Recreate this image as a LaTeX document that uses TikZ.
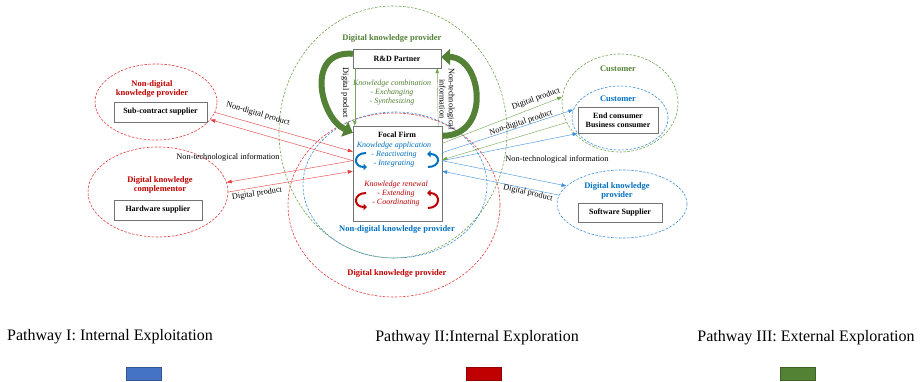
\documentclass[tikz,border=0pt]{standalone}
\usepackage{fontspec}
\setmainfont{Liberation Serif}
\usetikzlibrary{shapes.geometric,arrows.meta,positioning}
\definecolor{kred}{HTML}{C00000}
\definecolor{kblue}{HTML}{0070C0}
\definecolor{kgreen}{HTML}{538135}
\definecolor{lred}{HTML}{E23B3B}
\definecolor{lblue}{HTML}{3F8FD8}
\definecolor{lgreen}{HTML}{72A552}
\definecolor{swblue}{HTML}{4472C4}
\definecolor{swgreen}{HTML}{548235}

\begin{document}
\begin{tikzpicture}
  [
    x=1pt, y=-1pt,
    >={Triangle[length=5pt, width=3.6pt]},
    Box/.style={rectangle, draw=black!55, fill=white, thin, inner sep=1pt, align=center, font=\fontsize{8}{9.3}\selectfont\bfseries},
    Group/.style={ellipse, draw=#1, dash pattern=on 2.5pt off 1.5pt, line width=0.6pt, inner sep=0pt},
    GroupName/.style={text=#1, align=center, inner sep=0pt, font=\fontsize{8.5}{9.3}\selectfont\bfseries},
    Flow/.style={inner sep=0pt, font=\fontsize{8.3}{9.3}\selectfont},
    Mode/.style={text=#1, align=center, inner sep=0pt, font=\fontsize{8}{9}\selectfont\itshape},
    Loop/.style={draw=#1, line width=2pt, -{Triangle[length=3.5pt, width=6.5pt]}},
    Swap/.style={draw=kgreen, line width=6pt, -{Triangle[length=9pt, width=16pt]}},
    Key/.style={inner sep=0pt, font=\fontsize{16}{18}\selectfont},
    Swatch/.style={draw=#1!75!black, fill=#1, minimum width=35pt, minimum height=13pt, inner sep=0pt}
  ]
  \useasboundingbox (0,0) rectangle (921,382);
  % Groups
  \node[Group=lgreen, minimum width=228pt, minimum height=252pt] (dkpOuter) at (393,132) {};
  \node[Group=lred, minimum width=212pt, minimum height=184pt] (dkpLower) at (394,205) {};
  \node[Group=lblue, minimum width=184pt, minimum height=146pt] (ndkpInner) at (395,185) {};
  \node[Group=lred, minimum width=122pt, minimum height=76pt] (ndkpLeft) at (156,102) {};
  \node[Group=lred, minimum width=140pt, minimum height=90pt] (dkcLeft) at (158,192) {};
  \node[Group=lgreen, minimum width=116pt, minimum height=98pt] (custOuter) at (620,103) {};
  \node[Group=lblue, minimum width=96pt, minimum height=64pt] (custInner) at (620,118) {};
  \node[Group=lblue, minimum width=130pt, minimum height=68pt] (dkpRight) at (622,204) {};
  % Group names
  \node[GroupName=kgreen] (dkpOuterName) at (392,38) {Digital knowledge provider};
  \node[GroupName=kblue] (ndkpInnerName) at (397,229) {Non-digital knowledge provider};
  \node[GroupName=kred] (dkpLowerName) at (397,273) {Digital knowledge provider};
  \node[GroupName=kred] (ndkpLeftName) at (152,89) {Non-digital\\knowledge provider};
  \node[GroupName=kred] (dkcLeftName) at (160,185) {Digital knowledge\\complementor};
  \node[GroupName=kgreen] (custOuterName) at (618,69) {Customer};
  \node[GroupName=kblue] (custInnerName) at (618,99) {Customer};
  \node[GroupName=kblue] (dkpRightName) at (617,191) {Digital knowledge\\provider};
  % Actors
  \node[Box, minimum width=88pt, minimum height=19pt] (rd) at (397,58.5) {R\&D Partner};
  \node[Box, minimum width=89pt, minimum height=95pt] (focal) at (397.5,173.5) {};
  \node[Box, minimum width=93pt, minimum height=20pt] (sub) at (160.5,112) {Sub-contract supplier};
  \node[Box, minimum width=88pt, minimum height=20pt] (hw) at (158,210) {Hardware supplier};
  \node[Box, minimum width=80pt, minimum height=26pt] (cons) at (618,120) {End consumer\\Business consumer};
  \node[Box, minimum width=84pt, minimum height=19pt] (soft) at (620,212.5) {Software Supplier};
  % Inside the focal firm
  \node[inner sep=0pt, font=\fontsize{8}{9}\selectfont\bfseries] (focalName) at (397,135) {Focal Firm};
  \node[Mode=kblue] (apply) at (394,155) {Knowledge application\\- Reactivating\\- Integrating};
  \node[Mode=kred] (renew) at (396,194) {Knowledge renewal\\- Extending\\- Coordinating};
  \node[Mode=kgreen] (combine) at (392,93) {Knowledge combination\\- Exchanging\\- Synthesizing};
  \draw[Loop=kblue] (366,153) .. controls (353,153) and (353,167) .. (367,167);
  \draw[Loop=kblue] (428,167) .. controls (441,167) and (441,154) .. (427,154);
  \draw[Loop=kred] (366,193) .. controls (353,193) and (353,207) .. (367,207);
  \draw[Loop=kred] (428,208) .. controls (441,208) and (441,193) .. (427,193);
  % Lines
  \path[->, draw=lred] (ndkpLeft.-10) -- (focal.154);
  \path[->, draw=lred] (focal.164) -- (ndkpLeft.-18);
  \path[->, draw=lred] (focal.164) -- (dkcLeft.8);
  \path[->, draw=lred] (dkcLeft.east) -- (focal.177);
  \path[->, draw=lgreen] (focal.34) -- (custOuter.174);
  \path[->, draw=lblue] (focal.25) -- (custInner.170);
  \path[->, draw=lgreen] (custOuter.200) -- (focal.17);
  \path[->, draw=lblue] (focal.16) -- (custInner.200);
  \path[->, draw=lblue] (focal.16) -- (dkpRight.162);
  \path[->, draw=lblue] (dkpRight.172) -- (focal.3);
  \path[->, draw=lgreen] ([xshift=2pt]rd.south west) -- ([xshift=2pt]focal.north west);
  \path[->, draw=lgreen] ([xshift=-4pt]focal.north east) -- ([xshift=-4pt]rd.south east);
  \path[Swap] ([yshift=-5pt]rd.north west) .. controls (305,50) and (320,118) .. ([yshift=-7pt]focal.north west);
  \path[Swap] ([yshift=-10pt]focal.north east) .. controls (492,136) and (482,57) .. ([yshift=1.5pt]rd.east);
  % Line labels
  \node[Flow, rotate=-16] (ndpLeftLbl) at (258,114) {Non-digital product};
  \node[Flow] (ntiLeftLbl) at (228,157) {Non-technological information};
  \node[Flow, rotate=9] (dpLeftLbl) at (257,194) {Digital product};
  \node[Flow, rotate=19] (dpRightLbl) at (536,99) {Digital product};
  \node[Flow, rotate=18] (ndpRightLbl) at (521,123) {Non-digital product};
  \node[Flow] (ntiRightLbl) at (557,159) {Non-technological information};
  \node[Flow, rotate=-13] (dpSoftLbl) at (528,193) {Digital product};
  \node[Flow, rotate=-90] (dpRdLbl) at (345,93) {Digital product};
  \node[Flow, rotate=-90, align=center] (ntiRdLbl) at (447,99) {Non-technological\\information};
  % Legend
  \node[Key] (keyOne) at (110,337) {Pathway I: Internal Exploitation};
  \node[Key] (keyTwo) at (477,338) {Pathway II:Internal Exploration};
  \node[Key] (keyThree) at (806,338) {Pathway III: External Exploration};
  \node[Swatch=swblue] (swOne) at (144,373.5) {};
  \node[Swatch=kred] (swTwo) at (484,373.5) {};
  \node[Swatch=swgreen] (swThree) at (798,373.5) {};
\end{tikzpicture}
\end{document}
